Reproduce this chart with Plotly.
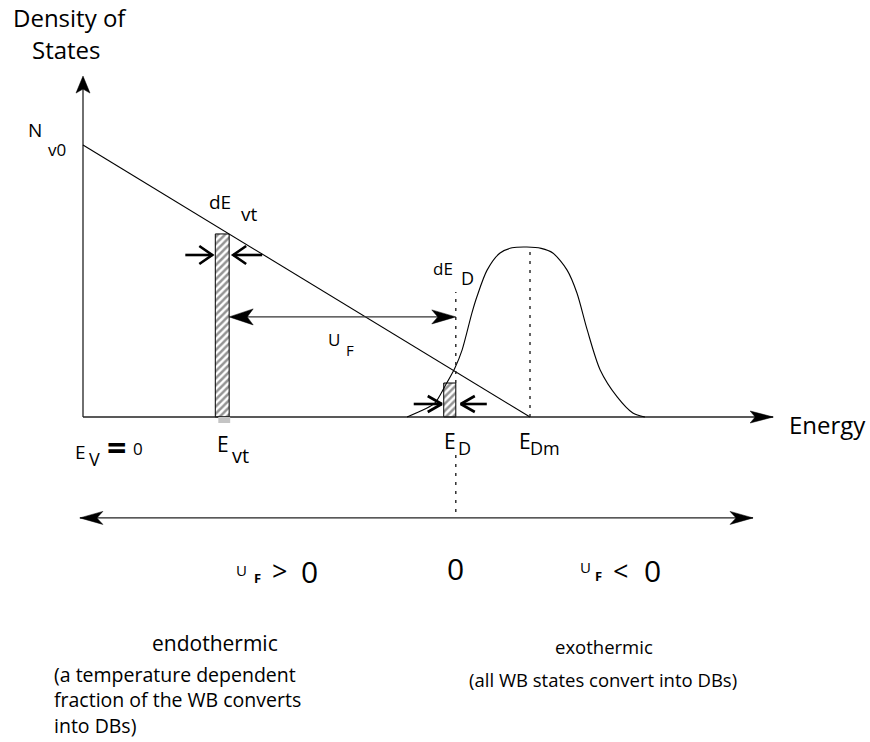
import plotly.graph_objects as go

W, H = 870, 742

# Band-tail density of states (normalised: N_v0 = 1, E_Dm = 1)
tail_energy = [0.0, 1.0]
tail_dos = [1.0, 0.0]

# Defect-state distribution centred on E_Dm
defect_energy = [0.725, 0.765, 0.787, 0.810, 0.832, 0.848, 0.870, 0.881, 0.904, 0.933,
                 0.960, 0.993, 1.025, 1.051, 1.083, 1.105, 1.128, 1.157, 1.195, 1.230, 1.257]
defect_dos = [0.0, 0.029, 0.051, 0.114, 0.180, 0.246, 0.382, 0.441, 0.540, 0.603,
              0.622, 0.625, 0.620, 0.603, 0.540, 0.456, 0.320, 0.173, 0.074, 0.015, 0.0]

# Energy slices dE_vt and dE_D (right edge, width, density)
slice_edge = [0.327, 0.834]
slice_width = [0.031, 0.027]
slice_dos = [0.673, 0.125]

E_Dm = 1.0
N_Dm = 0.625

# Drawing extents (diagram units)
E_axis_end, N_axis_end = 1.544, 1.246
UF_level = 0.368
ED_mark_top = 0.46
scale_level = -0.371
scale_left, scale_right = -0.007, 1.499

# axis ranges chosen so the diagram fills the page
x0, x1 = -83 / 447, 787 / 447
y0, y1 = -325 / 272, 417 / 272
ex = (x1 - x0) / W
ny = (y1 - y0) / H


def to_px(x, y):
    return (x - x0) / ex, (y1 - y) / ny


def to_data(px, py):
    return x0 + px * ex, y1 - py * ny


def stealth(x, y, ux, uy, L, Wd, notch):
    tx, ty = to_px(x, y)
    bx, by = tx - L * ux, ty - L * uy
    px_, py_ = -uy, ux
    pts = [(tx, ty), (bx + Wd * px_, by + Wd * py_), (tx - (L - notch) * ux, ty - (L - notch) * uy),
           (bx - Wd * px_, by - Wd * py_), (tx, ty)]
    d = [to_data(a, b) for a, b in pts]
    return go.Scatter(x=[p[0] for p in d], y=[p[1] for p in d], mode="lines", fill="toself",
                      fillcolor="black", line=dict(color="black", width=0.5), hoverinfo="skip")


def chevron(x, y, ux, uy, shaft, L=13, Wd=9, width=2.6):
    tx, ty = to_px(x, y)
    sx, sy = tx - shaft * ux, ty - shaft * uy
    bx, by = tx - L * ux, ty - L * uy
    px_, py_ = -uy, ux
    pts = [(sx, sy), (tx, ty), None, (bx + Wd * px_, by + Wd * py_), (tx, ty),
           (bx - Wd * px_, by - Wd * py_)]
    xs, ys = [], []
    for p in pts:
        if p is None:
            xs.append(None); ys.append(None)
        else:
            a, b = to_data(*p)
            xs.append(a); ys.append(b)
    return go.Scatter(x=xs, y=ys, mode="lines", line=dict(color="black", width=width),
                      hoverinfo="skip")


fig = go.Figure()

# energy slices as hatched bars
centers = [e - w / 2 for e, w in zip(slice_edge, slice_width)]
fig.add_trace(go.Bar(x=centers, y=slice_dos, width=slice_width, base=0,
                     marker=dict(color="white", line=dict(color="black", width=1),
                                 pattern=dict(shape="/", fgcolor="#2a2a2a", bgcolor="white",
                                              size=5, solidity=0.5)),
                     hoverinfo="skip"))

# grey foot below the E_vt slice
gx0, _ = to_data(to_px(slice_edge[0] - slice_width[0], 0)[0] + 3, 0)
gx1, _ = to_data(to_px(slice_edge[0], 0)[0] + 1, 0)
_, gy = to_data(0, to_px(0, 0)[1] + 6)
fig.add_shape(type="rect", x0=gx0, x1=gx1, y0=gy, y1=0, line=dict(width=0), fillcolor="#c4c4c4")

# axes
fig.add_trace(go.Scatter(x=[0, 0], y=[0, N_axis_end], mode="lines",
                         line=dict(color="#222", width=1.3), hoverinfo="skip"))
fig.add_trace(go.Scatter(x=[0, E_axis_end], y=[0, 0], mode="lines",
                         line=dict(color="#222", width=1.3), hoverinfo="skip"))
fig.add_trace(stealth(0, N_axis_end + 2 * ny, 0, -1, 17, 7, 4))
fig.add_trace(stealth(E_axis_end, 0, 1, 0, 23, 6, 5))

# band tail and defect distribution
fig.add_trace(go.Scatter(x=tail_energy, y=tail_dos, mode="lines",
                         line=dict(color="black", width=1.1), hoverinfo="skip"))
fig.add_trace(go.Scatter(x=defect_energy, y=defect_dos, mode="lines", line_shape="spline",
                         line=dict(color="black", width=1.1, smoothing=0.8), hoverinfo="skip"))

# dotted markers at E_Dm and E_D
dot = dict(color="#222", width=1.4, dash="3px,6px")
fig.add_trace(go.Scatter(x=[E_Dm, E_Dm], y=[0, N_Dm], mode="lines", line=dot, hoverinfo="skip"))
fig.add_trace(go.Scatter(x=[slice_edge[1], slice_edge[1]], y=[slice_dos[1], ED_mark_top],
                         mode="lines", line=dot, hoverinfo="skip"))
fig.add_trace(go.Scatter(x=[slice_edge[1], slice_edge[1]], y=[-0.14, scale_level],
                         mode="lines", line=dot, hoverinfo="skip"))

# U_F arrow between the two slices
fig.add_trace(go.Scatter(x=[slice_edge[0] + 10 * ex, slice_edge[1] - 10 * ex], y=[UF_level, UF_level],
                         mode="lines", line=dict(color="#333", width=1.4), hoverinfo="skip"))
fig.add_trace(stealth(slice_edge[0], UF_level, -1, 0, 24, 8, 6))
fig.add_trace(stealth(slice_edge[1], UF_level, 1, 0, 24, 7, 6))

# dE markers
vt_arrow_y = to_data(0, 255)[1]
d_arrow_y = to_data(0, 404)[1]
fig.add_trace(chevron(slice_edge[0] - slice_width[0] - 3 * ex, vt_arrow_y, 1, 0, 27))
fig.add_trace(chevron(slice_edge[0] + 4 * ex, vt_arrow_y, -1, 0, 29))
fig.add_trace(chevron(slice_edge[1] - slice_width[1] - 2 * ex, d_arrow_y, 1, 0, 28, L=14, Wd=8))
fig.add_trace(chevron(slice_edge[1] + 5 * ex, d_arrow_y, -1, 0, 26, L=14, Wd=8))

# U_F sign scale
fig.add_trace(go.Scatter(x=[scale_left, scale_right], y=[scale_level, scale_level], mode="lines",
                         line=dict(color="#222", width=1.3), hoverinfo="skip"))
fig.add_trace(stealth(scale_left, scale_level, -1, 0, 23, 6.5, 6))
fig.add_trace(stealth(scale_right, scale_level, 1, 0, 23, 6.5, 6))

FONT = "Open Sans"


def label(px, py, text, size, anchor="center", bold=False, yanchor="middle", align="center"):
    fig.add_annotation(x=px / W, y=1 - py / H, xref="paper", yref="paper", text=text,
                       showarrow=False, xanchor=anchor, yanchor=yanchor, align=align,
                       font=dict(family=FONT, size=size, color="black",
                                 weight="bold" if bold else "normal"))


label(70, 17, "Density of", 24)
label(66, 50, "States", 24)
label(35, 130, "N", 19)
label(57, 150, "v0", 17)
label(220, 202, "dE", 19)
label(249, 214, "vt", 19)
label(443, 269, "dE", 17)
label(467, 278, "D", 18)
label(334, 339, "U", 17)
label(350, 350, "F", 15)
label(80, 452, "E", 19)
label(94, 459, "V", 18)
label(116, 447, "=", 34, bold=True)
label(138, 449, "0", 17)
label(223, 444, "E", 21)
label(240, 455, "vt", 20)
label(450, 441, "E", 21)
label(464, 448, "D", 18)
label(525, 441, "E", 21)
label(545, 448, "Dm", 18)
label(827, 424, "Energy", 24)

label(242, 570, "U", 15)
label(257, 578, "F", 13, bold=True)
label(279, 570, ">", 27)
label(309, 571, "0", 30)
label(455, 568, "0", 30)
label(585, 567, "U", 15)
label(598, 576, "F", 13, bold=True)
label(620, 570, "<", 27)
label(652, 570, "0", 30)

label(215, 643, "endothermic", 21)
label(52, 659, "(a temperature dependent<br>fraction of the WB converts<br>into DBs)", 19.5,
      anchor="left", yanchor="top", align="left")
label(604, 646, "exothermic", 18.5)
label(603, 679, "(all WB states convert into DBs)", 18.5)

fig.update_layout(width=W, height=H, autosize=False, margin=dict(l=0, r=0, t=0, b=0, pad=0),
                  paper_bgcolor="white", plot_bgcolor="white", showlegend=False,
                  barmode="overlay",
                  xaxis=dict(range=[x0, x1], visible=False, fixedrange=True),
                  yaxis=dict(range=[y0, y1], visible=False, fixedrange=True))

fig.write_html("out.html")
